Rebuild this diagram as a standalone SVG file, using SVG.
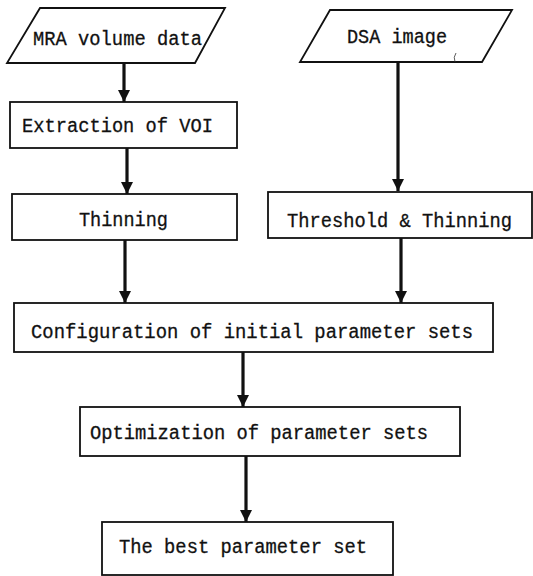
<svg xmlns="http://www.w3.org/2000/svg" width="533" height="576" viewBox="0 0 533 576">
<defs>
<style>
.box{fill:#fff;stroke:#111;stroke-width:1.8}
.t{font-family:"Liberation Mono","DejaVu Sans Mono",monospace;font-size:19.5px;fill:#111;stroke:#111;stroke-width:0.3}
.c{stroke:#111;stroke-width:3.2;fill:none}
</style>
<marker id="ah" markerUnits="userSpaceOnUse" markerWidth="12" markerHeight="14" refX="12" refY="6" orient="auto" viewBox="0 0 12 12">
<path d="M0,0 L12,6 L0,12 Z" fill="#111"/>
</marker>
</defs>
<rect width="533" height="576" fill="#fff"/>
<g id="connectors">
<line class="c" x1="124" y1="63" x2="124" y2="102" marker-end="url(#ah)"/>
<line class="c" x1="398" y1="62" x2="398" y2="191" marker-end="url(#ah)"/>
<line class="c" x1="127" y1="148" x2="127" y2="194" marker-end="url(#ah)"/>
<line class="c" x1="125" y1="240" x2="125" y2="303" marker-end="url(#ah)"/>
<line class="c" x1="401" y1="238" x2="401" y2="303" marker-end="url(#ah)"/>
<line class="c" x1="243" y1="352" x2="243" y2="407" marker-end="url(#ah)"/>
<line class="c" x1="246" y1="456" x2="246" y2="522" marker-end="url(#ah)"/>
</g>
<g id="mra">
<polygon class="box" points="40,8 225,8 195,63 7,63"/>
<text class="t" x="33" y="45" textLength="169" lengthAdjust="spacingAndGlyphs">MRA volume data</text>
</g>
<g id="dsa">
<polygon class="box" points="330,10 512,10 482,62 300,62"/>
<text class="t" x="347" y="43" textLength="100" lengthAdjust="spacingAndGlyphs">DSA image</text>
<path d="M455,62 Q453,57 456,53" stroke="#333" stroke-width="0.8" fill="none"/>
</g>
<g id="extraction">
<rect class="box" x="10" y="102" width="227" height="46"/>
<text class="t" x="22" y="132" textLength="191" lengthAdjust="spacingAndGlyphs">Extraction of VOI</text>
</g>
<g id="thinning">
<rect class="box" x="12" y="194" width="225" height="46"/>
<text class="t" x="79" y="226" textLength="89" lengthAdjust="spacingAndGlyphs">Thinning</text>
</g>
<g id="threshold">
<rect class="box" x="268" y="192" width="264" height="46"/>
<text class="t" x="287" y="227" textLength="225" lengthAdjust="spacingAndGlyphs">Threshold &amp; Thinning</text>
</g>
<g id="config">
<rect class="box" x="14" y="303" width="479" height="49"/>
<text class="t" x="31" y="338" textLength="442" lengthAdjust="spacingAndGlyphs">Configuration of initial parameter sets</text>
</g>
<g id="optimization">
<rect class="box" x="80" y="407" width="380" height="49"/>
<text class="t" x="90" y="439" textLength="338" lengthAdjust="spacingAndGlyphs">Optimization of parameter sets</text>
</g>
<g id="best">
<rect class="box" x="102" y="522" width="291" height="53"/>
<text class="t" x="119" y="553" textLength="248" lengthAdjust="spacingAndGlyphs">The best parameter set</text>
</g>
</svg>
